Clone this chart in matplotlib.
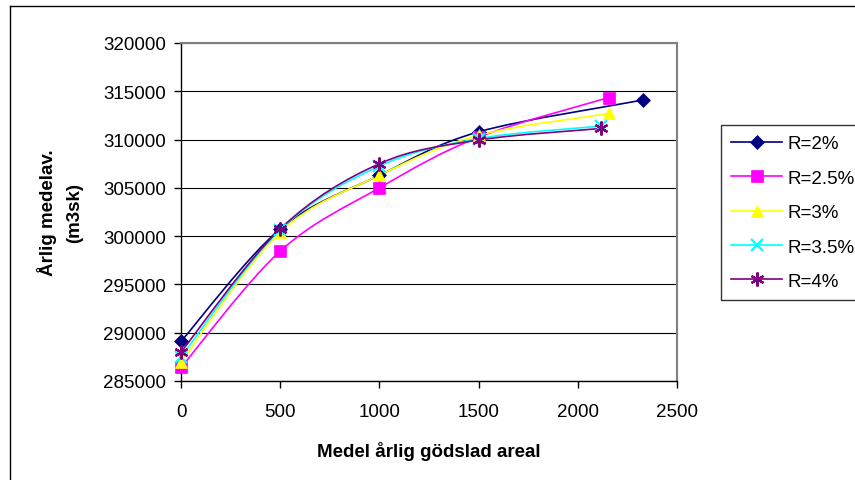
import numpy as np
import matplotlib
matplotlib.use("Agg")
import matplotlib.pyplot as plt
from matplotlib.path import Path
from matplotlib.patches import PathPatch
from matplotlib.lines import Line2D

plt.rcParams['font.family'] = ['Liberation Sans', 'DejaVu Sans']

# ---- data ----
labels = ["R=2%", "R=2.5%", "R=3%", "R=3.5%", "R=4%"]
x_r2 = [0, 500, 1000, 1500, 2330]
y_r2 = [289100, 300750, 306300, 310800, 314100]
x_r25 = [0, 500, 1000, 1500, 2156]
y_r25 = [286400, 298450, 305000, 310250, 314350]
x_r3 = [0, 500, 1000, 1500, 2159]
y_r3 = [287000, 300400, 306300, 310450, 312700]
x_r35 = [0, 500, 1000, 1500, 2117]
y_r35 = [287500, 300650, 307250, 310100, 311400]
x_r4 = [0, 500, 1000, 1500, 2117]
y_r4 = [288000, 300750, 307500, 309950, 311150]

xs = [x_r2, x_r25, x_r3, x_r35, x_r4]
ys = [y_r2, y_r25, y_r3, y_r35, y_r4]
colors = ["#000080", "#FF00FF", "#FFFF00", "#00FFFF", "#800080"]
markers = ["D", "s", "^", "x", (6, 2, 0)]
msizes = [7, 8, 9, 9, 10]

xticks = [0, 500, 1000, 1500, 2000, 2500]
yticks = [285000, 290000, 295000, 300000, 305000, 310000, 315000, 320000]


def smooth_path(x, y):
    p = np.column_stack([x, y]).astype(float)
    n = len(p)
    verts = [p[0]]
    codes = [Path.MOVETO]
    for i in range(n - 1):
        p0 = p[i - 1] if i > 0 else p[i]
        p1 = p[i]
        p2 = p[i + 1]
        p3 = p[i + 2] if i + 2 < n else p[i + 1]
        c1 = p1 + (p2 - p0) / 6.0
        c2 = p2 - (p3 - p1) / 6.0
        verts += [c1, c2, p2]
        codes += [Path.CURVE4] * 3
    return Path(verts, codes)


fig = plt.figure(figsize=(8.55, 4.81), dpi=100)
ax = fig.add_axes([181 / 855, 99 / 481, 496 / 855, 338 / 481])

for x, y, c, m, ms in zip(xs, ys, colors, markers, msizes):
    ax.add_patch(PathPatch(smooth_path(x, y), facecolor='none', edgecolor=c, lw=1.2, zorder=3))
    mew = 1.6 if m in ("x",) or isinstance(m, tuple) else 0.5
    ax.plot(x, y, linestyle='none', marker=m, markersize=ms, color=c,
            markeredgecolor=c, markeredgewidth=mew, zorder=4, clip_on=False)

ax.set_xlim(0, 2500)
ax.set_ylim(285000, 320000)
ax.set_xticks(xticks)
ax.set_yticks(yticks)
ax.set_xticklabels([str(t) for t in xticks], fontsize=13.5)
ax.set_yticklabels([str(t) for t in yticks], fontsize=13.5)
ax.tick_params(direction='out', length=5, width=1, color='black', pad=6)
ax.tick_params(axis='x', pad=11)
ax.grid(axis='y', color='black', lw=0.8)
ax.set_axisbelow(True)
for s in ['top', 'right']:
    ax.spines[s].set_color('#808080')
    ax.spines[s].set_linewidth(1.5)
for s in ['left', 'bottom']:
    ax.spines[s].set_color('black')
    ax.spines[s].set_linewidth(1.0)

ax.set_xlabel("Medel årlig gödslad areal", fontsize=13.5, fontweight='bold', labelpad=15)
fig.text(60 / 855, 1 - 213 / 481, "Årlig medelav.\n(m3sk)", rotation=90, ha='center', va='center',
         fontsize=13.5, fontweight='bold', linespacing=1.7, multialignment='center')

handles = [Line2D([0], [0], color=c, lw=1.2, marker=m, markersize=ms, markeredgecolor=c,
                  markeredgewidth=(1.6 if (m == "x" or isinstance(m, tuple)) else 0.5))
           for c, m, ms in zip(colors, markers, msizes)]
leg = fig.legend(handles, labels, loc='upper left', bbox_to_anchor=(721 / 855, 1 - 126 / 481),
                 fontsize=13.5, frameon=True, fancybox=False, edgecolor='black',
                 handlelength=2.7, handletextpad=0.3, labelspacing=0.92, borderpad=0.55,
                 borderaxespad=0)
leg.get_frame().set_linewidth(1.0)

# outer chart border
fig.add_artist(Line2D([10 / 855, 10 / 855], [0, 1 - 7 / 481], transform=fig.transFigure, color='black', lw=1.0))
fig.add_artist(Line2D([10 / 855, 1], [1 - 7 / 481, 1 - 7 / 481], transform=fig.transFigure, color='black', lw=1.0))

fig.savefig("out.png", dpi=100)
